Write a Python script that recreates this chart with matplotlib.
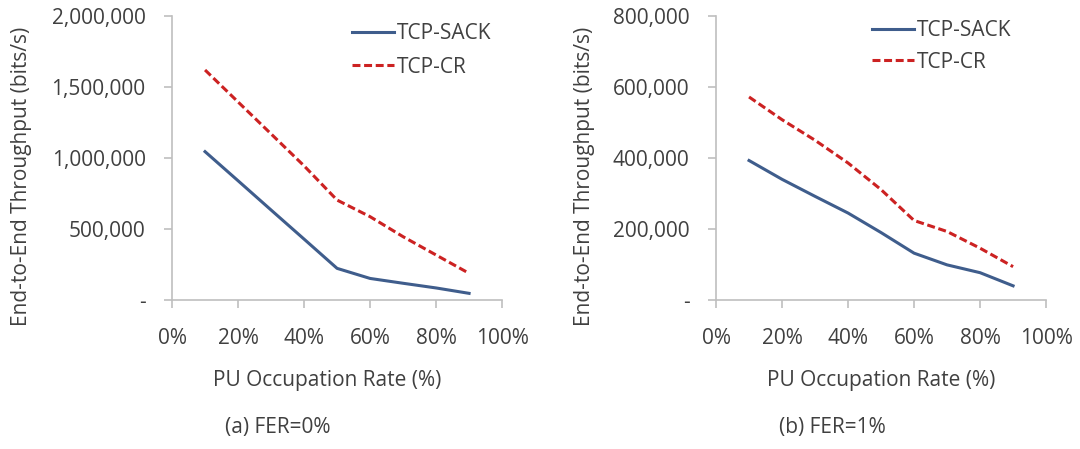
import matplotlib.pyplot as plt
from matplotlib.ticker import FuncFormatter

plt.rcParams['font.family'] = ['Open Sans', 'DejaVu Sans']

# PU occupation rate (%)
occupation = [10, 20, 30, 40, 50, 60, 70, 80, 90]

# (a) FER = 0%
sack_fer0 = [1045000, 840000, 634000, 429000, 223000, 152000, 118000, 85000, 47000]
cr_fer0 = [1620000, 1395000, 1170000, 945000, 704000, 587000, 446000, 317000, 188000]

# (b) FER = 1%
sack_fer1 = [393000, 340000, 292000, 245000, 190000, 132000, 99000, 77000, 40000]
cr_fer1 = [572000, 508000, 450000, 386000, 311000, 224000, 193000, 146000, 94000]

captions = ["(a) FER=0%", "(b) FER=1%"]
y_max = [2000000, 800000]
y_step = [500000, 200000]

txt = '#404040'
axc = '#bfbfbf'
fs = 15


def fmt_y(v, pos):
    if v == 0:
        return '-'
    return f'{int(v):,}'


fig = plt.figure(figsize=(10.8, 4.49), dpi=100)

# layout per panel: axes left, legend x, legend top, ylabel x, xlabel x, caption x, legend spacing
layout = [
    (0.1593, 0.545, 0.975, -0.455, 0.47, 0.257, 0.6),
    (0.6630, 0.474, 0.985, -0.40, 0.50, 0.771, 0.5),
]
series = [(sack_fer0, cr_fer0), (sack_fer1, cr_fer1)]

for i in range(2):
    left, lx, ly, ylx, xlx, cx, lsp = layout[i]
    sack, cr = series[i]
    ax = fig.add_axes([left, 0.3318, 0.3056, 0.6325])
    ax.plot(occupation, sack, color='#3f5d8c', lw=2.2, label='TCP-SACK')
    ax.plot(occupation, cr, color='#cc2222', lw=2.2, ls=(0, (2.6, 1.2)), label='TCP-CR')
    ax.set_xlim(0, 100)
    ax.set_ylim(0, y_max[i])
    ax.set_xticks(range(0, 101, 20))
    ax.set_xticklabels([f'{v}%' for v in range(0, 101, 20)])
    ax.set_yticks(range(0, y_max[i] + 1, y_step[i]))
    ax.yaxis.set_major_formatter(FuncFormatter(fmt_y))
    for s in ['top', 'right']:
        ax.spines[s].set_visible(False)
    for s in ['left', 'bottom']:
        ax.spines[s].set_color(axc)
        ax.spines[s].set_linewidth(1.2)
    ax.tick_params(axis='x', colors=axc, labelcolor=txt, labelsize=fs,
                   length=6, width=1.2, pad=14)
    ax.tick_params(axis='y', colors=axc, labelcolor=txt, labelsize=fs,
                   length=6, width=1.2, pad=13)
    ax.set_xlabel('PU Occupation Rate (%)', fontsize=fs, color=txt, va='center')
    ax.xaxis.set_label_coords(xlx, -0.282)
    ax.set_ylabel('End-to-End Throughput (bits/s)', fontsize=fs, color=txt, va='center')
    ax.yaxis.set_label_coords(ylx, 0.437)
    leg = ax.legend(loc='upper left', bbox_to_anchor=(lx, ly), frameon=False,
                    fontsize=fs, handlelength=2.0, handletextpad=0.15,
                    labelspacing=lsp, borderpad=0, borderaxespad=0)
    for t in leg.get_texts():
        t.set_color(txt)
    fig.text(cx, 1 - 428 / 449, captions[i], ha='center', va='center',
             fontsize=fs, color=txt)

fig.savefig('out.png', dpi=100)
